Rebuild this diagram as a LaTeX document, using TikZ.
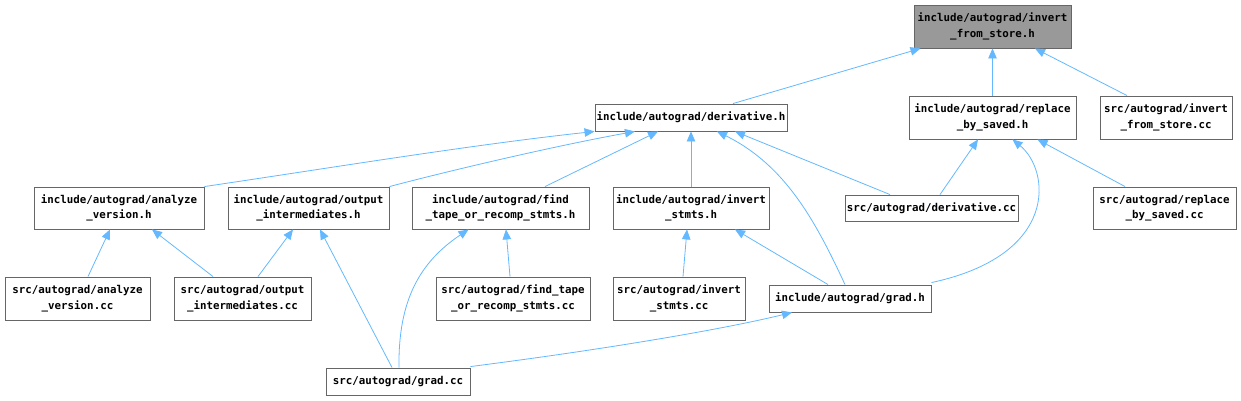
\documentclass[tikz,border=0pt]{standalone}
\usepackage{fontspec}
\usetikzlibrary{arrows.meta}
\newfontfamily\dmono{DejaVu Sans Mono}
\definecolor{edgeblue}{HTML}{63B8FF}
\definecolor{boxgray}{HTML}{666666}
\definecolor{hlfill}{HTML}{999999}
\tikzset{
  filebox/.style={draw=boxgray, line width=0.9pt, fill=white, rectangle, inner sep=0pt,
    align=center, font=\dmono\bfseries\fontsize{10.8}{15.5}\selectfont, text=black},
  hlbox/.style={filebox, fill=hlfill},
  dep/.style={draw=edgeblue, line width=0.8pt, -{Triangle[length=10pt,width=8.5pt]}},
}
\begin{document}
\begin{tikzpicture}[x=1pt,y=-1pt]
\useasboundingbox (0,0) rectangle (1241,400);
% nodes
\node[hlbox, minimum width=157pt, minimum height=43pt] (ifsh) at (992.5,26.5) {include/autograd/invert\\\_from\_store.h};
\node[filebox, minimum width=167pt, minimum height=43pt] (rbsh) at (992.5,117.5) {include/autograd/replace\\\_by\_saved.h};
\node[filebox, minimum width=132pt, minimum height=43pt] (ifscc) at (1166,117.5) {src/autograd/invert\\\_from\_store.cc};
\node[filebox, minimum width=192pt, minimum height=27pt] (derh) at (691,117.5) {include/autograd/derivative.h};
\node[filebox, minimum width=170pt, minimum height=42pt] (avh) at (119,208) {include/autograd/analyze\\\_version.h};
\node[filebox, minimum width=161pt, minimum height=42pt] (oih) at (308.5,208) {include/autograd/output\\\_intermediates.h};
\node[filebox, minimum width=177pt, minimum height=42pt] (fth) at (500.5,208) {include/autograd/find\\\_tape\_or\_recomp\_stmts.h};
\node[filebox, minimum width=156pt, minimum height=42pt] (ish) at (691,208) {include/autograd/invert\\\_stmts.h};
\node[filebox, minimum width=173pt, minimum height=26pt] (dercc) at (931.5,208) {src/autograd/derivative.cc};
\node[filebox, minimum width=143pt, minimum height=42pt] (rbscc) at (1164.5,208) {src/autograd/replace\\\_by\_saved.cc};
\node[filebox, minimum width=145pt, minimum height=43pt] (avcc) at (77.5,298.5) {src/autograd/analyze\\\_version.cc};
\node[filebox, minimum width=137pt, minimum height=43pt] (oicc) at (242.5,298.5) {src/autograd/output\\\_intermediates.cc};
\node[filebox, minimum width=154pt, minimum height=43pt] (ftcc) at (513,298.5) {src/autograd/find\_tape\\\_or\_recomp\_stmts.cc};
\node[filebox, minimum width=132pt, minimum height=43pt] (iscc) at (679,298.5) {src/autograd/invert\\\_stmts.cc};
\node[filebox, minimum width=162pt, minimum height=27pt] (gradh) at (850,298.5) {include/autograd/grad.h};
\node[filebox, minimum width=144pt, minimum height=27pt] (gradcc) at (398,381.5) {src/autograd/grad.cc};
% edges (child -> parent)
\draw[dep] ([xshift=42pt]derh.north) -- ([xshift=-72pt]ifsh.south);
\draw[dep] (rbsh.north) -- (ifsh.south);
\draw[dep] ([xshift=-39pt]ifscc.north) -- ([xshift=42.5pt]ifsh.south);
\draw[dep] (avh.north east) .. controls (330,168) and (470,145) .. (derh.south west);
\draw[dep] (oih.north east) .. controls (460,168) and (560,145) .. ([xshift=-56pt]derh.south);
\draw[dep] ([xshift=44.5pt]fth.north) -- ([xshift=-33pt]derh.south);
\draw[dep] (ish.north) -- (derh.south);
\draw[dep] ([xshift=-5pt]gradh.north) .. controls (815,220) and (785,165) .. ([xshift=26pt]derh.south);
\draw[dep] ([xshift=-41.5pt]dercc.north) -- ([xshift=44pt]derh.south);
\draw[dep] ([xshift=8.5pt]dercc.north) -- ([xshift=-14.5pt]rbsh.south);
\draw[dep] ([yshift=2pt]gradh.north east) .. controls (1060,255) and (1050,170) .. ([xshift=20pt]rbsh.south);
\draw[dep] ([xshift=-39.5pt]rbscc.north) -- ([xshift=45pt]rbsh.south);
\draw[dep] ([xshift=10.5pt]avcc.north) -- ([xshift=-9pt]avh.south);
\draw[dep] ([xshift=-29.5pt]oicc.north) -- ([xshift=33pt]avh.south);
\draw[dep] ([xshift=15.5pt]oicc.north) -- ([xshift=-15.5pt]oih.south);
\draw[dep] ([xshift=-6pt]gradcc.north) -- ([xshift=11.5pt]oih.south);
\draw[dep] ([xshift=1pt]gradcc.north) .. controls (398,300) and (420,262) .. ([xshift=-32pt]fth.south);
\draw[dep] ([xshift=-3pt]ftcc.north) -- ([xshift=5.5pt]fth.south);
\draw[dep] ([xshift=4pt]iscc.north) -- ([xshift=-4pt]ish.south);
\draw[dep] ([xshift=-22pt]gradh.north) -- ([xshift=44pt]ish.south);
\draw[dep] ([yshift=1pt]gradcc.north east) .. controls (600,350) and (720,330) .. ([xshift=-58pt]gradh.south);
\end{tikzpicture}
\end{document}
